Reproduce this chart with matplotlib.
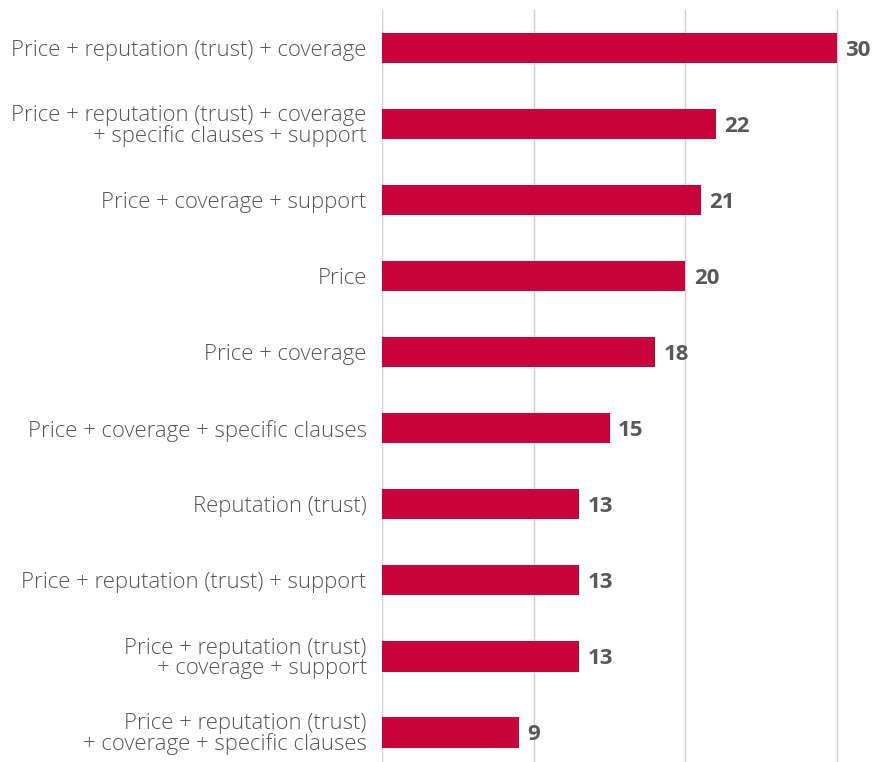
import matplotlib.pyplot as plt

# categories (top to bottom) and values
labels = [
    "Price + reputation (trust) + coverage",
    "Price + reputation (trust) + coverage\n+ specific clauses + support",
    "Price + coverage + support",
    "Price",
    "Price + coverage",
    "Price + coverage + specific clauses",
    "Reputation (trust)",
    "Price + reputation (trust) + support",
    "Price + reputation (trust)\n+ coverage + support",
    "Price + reputation (trust)\n+ coverage + specific clauses",
]
values = [30, 22, 21, 20, 18, 15, 13, 13, 13, 9]

plt.rcParams['font.family'] = ['Open Sans', 'DejaVu Sans']

fig = plt.figure(figsize=(8.72, 7.62), dpi=100)
ax = fig.add_axes([382 / 872, 0, (872 - 382) / 872, 752 / 762])

pos = list(range(len(labels)))
ax.barh(pos, values, height=0.4, color="#C8033A", zorder=3)

# value labels at bar ends
for p, v in zip(pos, values):
    ax.text(v + 0.55, p, str(v), va="center_baseline", ha="left", fontsize=16,
            fontweight="bold", color="#595959")

ax.set_yticks(pos)
ax.set_yticklabels(labels, fontsize=15.9, color="#555555", ha="right",
                   linespacing=0.95, fontweight="light")
ax.tick_params(axis="y", length=0, pad=11)
ax.tick_params(axis="x", length=0, labelbottom=False)

ax.set_xlim(0, 32.3)
ax.set_ylim(9.39, -0.5)
ax.set_xticks([0, 10, 20, 30])
ax.grid(axis="x", color="#D0D0D0", linewidth=1, zorder=0)
for s in ax.spines.values():
    s.set_visible(False)

fig.savefig("out.png", dpi=100)
